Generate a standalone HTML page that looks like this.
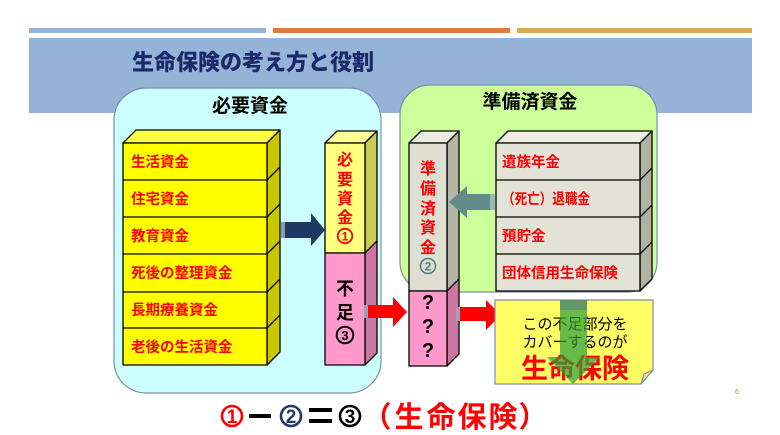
<!DOCTYPE html>
<html><head><meta charset="utf-8">
<style>
html,body{margin:0;padding:0;background:#fff;}
svg{display:block;}
text{font-family:"Liberation Sans","Noto Sans CJK JP",sans-serif;}
</style></head>
<body>
<svg width="780" height="435" viewBox="0 0 780 435" xmlns="http://www.w3.org/2000/svg">
<rect width="780" height="435" fill="#fff"/>
<!-- top bars -->
<rect x="29" y="28" width="237" height="5" fill="#95b3d7"/>
<rect x="273" y="28" width="237" height="5" fill="#e07a3e"/>
<rect x="517" y="28" width="235" height="5" fill="#d9aa55"/>
<!-- header band -->
<rect x="29" y="38" width="723" height="75" fill="#95b3d7"/>
<text x="132" y="70" font-size="22" font-weight="900" fill="#1b2a6b">生命保険の考え方と役割</text>

<!-- left box -->
<rect x="114" y="88" width="267" height="305" rx="32" fill="#ccffff" stroke="#7d8ea6" stroke-width="1.2"/>
<text x="250" y="112" font-size="19" font-weight="700" fill="#000" text-anchor="middle">必要資金</text>

<!-- right green box -->
<rect x="400" y="85" width="257" height="207" rx="30" fill="#ccff99" stroke="#7d8ea6" stroke-width="1.2"/>
<text x="530" y="108" font-size="19" font-weight="700" fill="#000" text-anchor="middle">準備済資金</text>

<!-- yellow stack -->
<g stroke="#000" stroke-width="1.3" stroke-linejoin="round">
<polygon points="123,143 136,130 280,130 267,143" fill="#ffff44"/>
<polygon points="267,143 280,130 280,352 267,365" fill="#c8c800"/>
<rect x="123" y="143" width="144" height="222" fill="#ffff00"/>
<line x1="123" y1="180" x2="267" y2="180"/>
<line x1="123" y1="217" x2="267" y2="217"/>
<line x1="123" y1="254" x2="267" y2="254"/>
<line x1="123" y1="292" x2="267" y2="292"/>
<line x1="123" y1="328" x2="267" y2="328"/>
<line x1="267" y1="180" x2="280" y2="167"/>
<line x1="267" y1="217" x2="280" y2="204"/>
<line x1="267" y1="254" x2="280" y2="241"/>
<line x1="267" y1="292" x2="280" y2="279"/>
<line x1="267" y1="328" x2="280" y2="315"/>
</g>
<g font-size="14.5" font-weight="700" fill="#ff0000">
<text x="131" y="167">生活資金</text>
<text x="131" y="204">住宅資金</text>
<text x="131" y="241">教育資金</text>
<text x="131" y="278">死後の整理資金</text>
<text x="131" y="315">長期療養資金</text>
<text x="131" y="352">老後の生活資金</text>
</g>

<!-- column 1 -->
<g stroke="#000" stroke-width="1.3" stroke-linejoin="round">
<polygon points="325,143 337,131 377,131 365,143" fill="#ffff99"/>
<polygon points="365,143 377,131 377,241 365,253" fill="#cccc55"/>
<polygon points="365,253 377,241 377,353 365,365" fill="#cc77a2"/>
<rect x="325" y="143" width="40" height="110" fill="#ffff80"/>
<rect x="325" y="253" width="40" height="112" fill="#ff99cc"/>
</g>
<g font-size="16" font-weight="700" fill="#ff0000" text-anchor="middle">
<text x="345" y="165">必</text>
<text x="345" y="185">要</text>
<text x="345" y="204">資</text>
<text x="345" y="223">金</text>
</g>
<circle cx="345" cy="236" r="7.3" fill="none" stroke="#ff0000" stroke-width="1.8"/>
<text x="345" y="240.5" font-size="12" font-weight="700" fill="#ff0000" text-anchor="middle">1</text>
<g font-size="18" font-weight="700" fill="#000" text-anchor="middle">
<text x="345" y="295">不</text>
<text x="345" y="319">足</text>
</g>
<circle cx="345" cy="335" r="8.3" fill="none" stroke="#000" stroke-width="2"/>
<text x="345" y="340" font-size="13" font-weight="700" fill="#000" text-anchor="middle">3</text>

<!-- column 2 -->
<g stroke="#000" stroke-width="1.3" stroke-linejoin="round">
<polygon points="409,143 421,131 459,131 447,143" fill="#ebebdf"/>
<polygon points="447,143 459,131 459,279 447,291" fill="#b5b5a5"/>
<polygon points="447,291 459,279 459,354 447,366" fill="#cc77a2"/>
<rect x="409" y="143" width="38" height="148" fill="#deded2"/>
<rect x="409" y="291" width="38" height="75" fill="#ff99cc"/>
</g>
<g font-size="16" font-weight="700" fill="#ff0000" text-anchor="middle">
<text x="428" y="174">準</text>
<text x="428" y="194">備</text>
<text x="428" y="214">済</text>
<text x="428" y="233">資</text>
<text x="428" y="253">金</text>
</g>
<circle cx="428" cy="266" r="7.5" fill="none" stroke="#4f7f7c" stroke-width="1.5"/>
<text x="428" y="270.5" font-size="12" font-weight="700" fill="#4f7f7c" text-anchor="middle">2</text>
<g font-size="20" font-weight="700" fill="#000" text-anchor="middle">
<text x="428" y="309">?</text>
<text x="428" y="333">?</text>
<text x="428" y="357">?</text>
</g>

<!-- right gray stack -->
<g stroke="#000" stroke-width="1.3" stroke-linejoin="round">
<polygon points="496,143 508,131 652,131 640,143" fill="#efefe3"/>
<polygon points="640,143 652,131 652,279 640,291" fill="#b2b2a2"/>
<rect x="496" y="143" width="144" height="148" fill="#e2e2d6"/>
<line x1="496" y1="180" x2="640" y2="180"/>
<line x1="496" y1="217" x2="640" y2="217"/>
<line x1="496" y1="254" x2="640" y2="254"/>
<line x1="640" y1="180" x2="652" y2="168"/>
<line x1="640" y1="217" x2="652" y2="205"/>
<line x1="640" y1="254" x2="652" y2="242"/>
</g>
<g font-size="14.5" font-weight="700" fill="#ff0000">
<text x="502" y="167">遺族年金</text>
<text x="502" y="204" textLength="88" lengthAdjust="spacingAndGlyphs">（死亡）退職金</text>
<text x="502" y="241">預貯金</text>
<text x="502" y="278">団体信用生命保険</text>
</g>

<!-- arrows -->
<polygon points="281,222 311,222 311,213 325,230 311,246 311,238 281,238" fill="#1f3864"/>
<rect x="281" y="222" width="4" height="16" fill="#8a9ab2"/>

<polygon points="495,194 467,194 467,186 449,202 467,218 467,210 495,210" fill="#5f8b88"/>
<rect x="490" y="194" width="5" height="16" fill="#9bb5b5"/>

<polygon points="364,305 393,305 393,297 407,312 393,327 393,318 364,318" fill="#ff0000"/>
<rect x="364" y="305" width="4" height="13" fill="#a0a0b0"/>

<polygon points="456,307 486,307 486,300 501,315 486,330 486,321 456,321" fill="#ff0000"/>
<rect x="456" y="307" width="4" height="14" fill="#a0a0b0"/>

<!-- yellow note -->
<polygon points="495,300 653,300 653,370 641,384 495,384" fill="#ffff66" stroke="#7d8ea6" stroke-width="1.2"/>
<polygon points="641,384 644,374 653,370" fill="#e6e680" stroke="#7d8ea6" stroke-width="1"/>
<g font-size="15" fill="#000" text-anchor="middle">
<text x="575" y="329">この不足部分を</text>
<text x="575" y="347">カバーするのが</text>
</g>
<text x="575" y="378" font-size="27" font-weight="700" fill="#ff0000" text-anchor="middle">生命保険</text>
<!-- green translucent arrow -->
<polygon points="560,300 587,300 587,357 600,357 573,384 547,357 560,357" fill="#2f9f3a" fill-opacity="0.72"/>
<rect x="560" y="300" width="27" height="10" fill="#5f8f70" fill-opacity="0.8"/>

<!-- page number -->
<text x="735" y="394" font-size="7" fill="#d08040">6</text>

<!-- formula -->
<circle cx="232" cy="416" r="10" fill="none" stroke="#ff0000" stroke-width="2.6"/>
<text x="232" y="423" font-size="19" font-weight="700" fill="#ff0000" text-anchor="middle">1</text>
<rect x="249" y="414" width="22" height="4" fill="#000"/>
<circle cx="291" cy="416" r="10" fill="none" stroke="#1f3864" stroke-width="2.6"/>
<text x="291" y="423" font-size="19" font-weight="700" fill="#1f3864" text-anchor="middle">2</text>
<rect x="309" y="408" width="23" height="4" fill="#000"/>
<rect x="309" y="419" width="23" height="4" fill="#000"/>
<circle cx="350" cy="416" r="10" fill="none" stroke="#000" stroke-width="2.6"/>
<text x="350" y="423" font-size="19" font-weight="700" fill="#000" text-anchor="middle">3</text>
<g font-size="29" font-weight="700" fill="#ff0000" text-anchor="middle">
<text x="377" y="427">（</text>
<text x="409" y="427">生</text>
<text x="441" y="427">命</text>
<text x="472" y="427">保</text>
<text x="503" y="427">険</text>
<text x="533" y="427">）</text>
</g>
</svg>
</body></html>
